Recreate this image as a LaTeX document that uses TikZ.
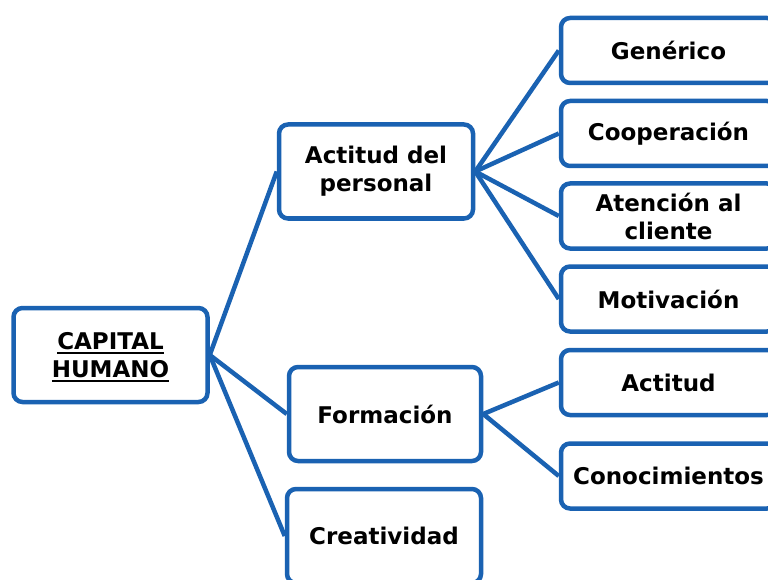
\documentclass[tikz,border=0pt]{standalone}
\usepackage{fontspec}
\setmainfont{DejaVu Sans}
\definecolor{boxblue}{RGB}{26,98,178}
\newsavebox\ulbox
\newcommand\thickul[1]{\sbox\ulbox{#1}\rlap{\raisebox{-5pt}[0pt][0pt]{\rule{\wd\ulbox}{2.5pt}}}\usebox\ulbox}
\begin{document}
\begin{tikzpicture}[x=1pt,y=-1pt,
  box/.style={draw=boxblue, line width=4.5pt, rounded corners=9pt, fill=white,
    align=center, font=\fontsize{23}{28}\selectfont\bfseries, inner sep=0pt},
  leftbox/.style={box, minimum width=194pt, minimum height=94pt},
  rightbox/.style={box, minimum width=215pt, minimum height=65pt},
  link/.style={draw=boxblue, line width=4.5pt}]
\useasboundingbox (0,0) rectangle (768,580);
\clip (0,0) rectangle (768,580);
\fill[white] (0,0) rectangle (768,580);
% nodes
\node[leftbox] (cap) at (110.5,355) {\thickul{CAPITAL}\\\thickul{HUMANO}};
\node[leftbox] (act) at (376,171.5) {Actitud del\\personal};
\node[leftbox, minimum width=192pt] (for) at (385,414) {Formación};
\node[leftbox] (cre) at (384,536) {Creatividad};
\node[rightbox] (gen) at (668.5,50.5) {Genérico};
\node[rightbox] (coo) at (668.5,133.5) {Cooperación};
\node[rightbox] (ate) at (668.5,216) {Atención al\\cliente};
\node[rightbox] (mot) at (668.5,299) {Motivación};
\node[rightbox] (acd) at (668.5,382.5) {Actitud};
\node[rightbox] (con) at (668.5,476) {Conocimientos};
% connectors
\draw[link] (cap.east) -- (act.west);
\draw[link] (cap.east) -- (for.west);
\draw[link] (cap.east) -- (cre.west);
\draw[link] (act.east) -- (gen.west);
\draw[link] (act.east) -- (coo.west);
\draw[link] (act.east) -- (ate.west);
\draw[link] (act.east) -- (mot.west);
\draw[link] (for.east) -- (acd.west);
\draw[link] (for.east) -- (con.west);
\end{tikzpicture}
\end{document}
